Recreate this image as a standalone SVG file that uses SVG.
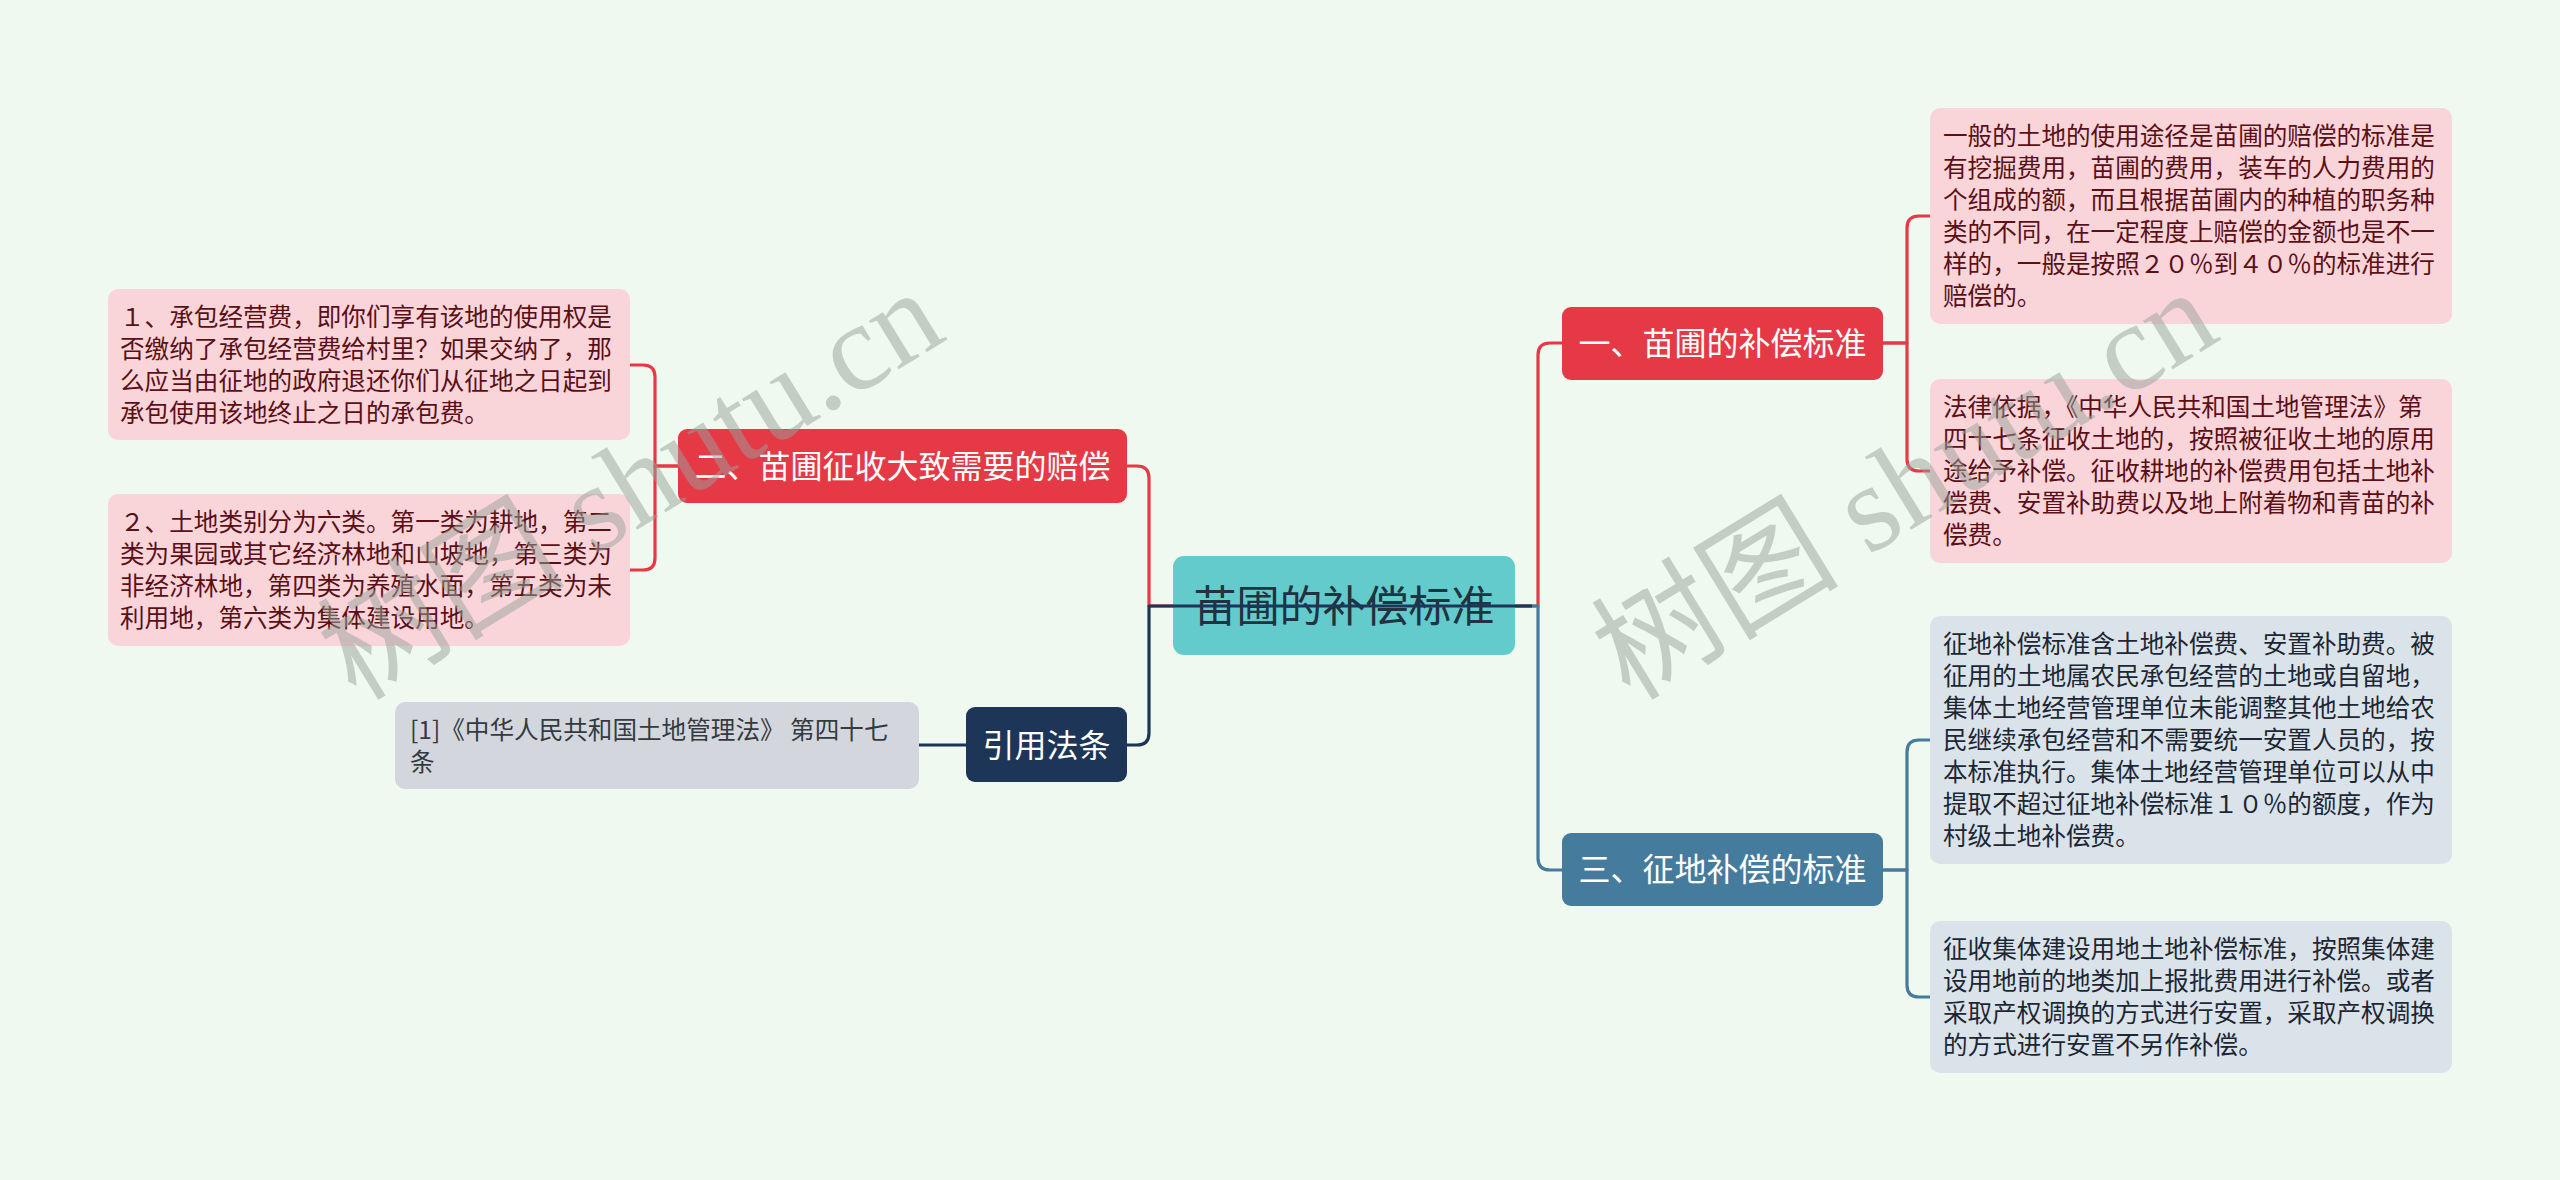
<svg xmlns="http://www.w3.org/2000/svg" width="2560" height="1180" viewBox="0 0 2560 1180">
<style>
text{font-family:"Noto Sans CJK SC","Noto Sans",sans-serif;}
.leaf{font-size:24.6px;}
.pk rect{fill:#f9d5da;}
.pk text{fill:#5a1016;}
.bl rect{fill:#dbe3ea;}
.bl text{fill:#1c2733;}
.gy rect{fill:#d3d7dd;}
.gy text{fill:#333a40;}
.br text{font-size:32px;fill:#ffffff;text-anchor:middle;}
.ln{fill:none;stroke-width:3.2;stroke-linejoin:round;}
.wm{font-family:"Liberation Serif","Noto Sans CJK SC",serif;font-size:124px;fill:#9aa29a;opacity:0.5;}
</style>
<rect width="2560" height="1180" fill="#eff9ef"/>

<g id="root">
<rect x="1173" y="556" width="342" height="99" rx="11" fill="#64cbcc"/>
<text x="1344" y="622" font-size="43" fill="#1f3340" text-anchor="middle">苗圃的补偿标准</text>
</g>

<g id="b1" class="br">
<rect x="1562" y="307" width="321" height="73" rx="9" fill="#e63946"/>
<text x="1722.5" y="355">一、苗圃的补偿标准</text>
</g>
<g id="b3" class="br">
<rect x="1562" y="833" width="321" height="73" rx="9" fill="#457b9d"/>
<text x="1722.5" y="881">三、征地补偿的标准</text>
</g>
<g id="b2" class="br">
<rect x="678" y="429" width="449" height="74" rx="9" fill="#e63946"/>
<text x="902.5" y="478">二、苗圃征收大致需要的赔偿</text>
</g>
<g id="b4" class="br">
<rect x="966" y="707" width="161" height="75" rx="9" fill="#1d3557"/>
<text x="1046.5" y="757">引用法条</text>
</g>

<g id="r1" class="leaf pk">
<rect x="1930" y="108" width="522" height="216" rx="10"/>
<text x="1943" y="145">一般的土地的使用途径是苗圃的赔偿的标准是</text>
<text x="1943" y="177">有挖掘费用，苗圃的费用，装车的人力费用的</text>
<text x="1943" y="209">个组成的额，而且根据苗圃内的种植的职务种</text>
<text x="1943" y="241">类的不同，在一定程度上赔偿的金额也是不一</text>
<text x="1943" y="273">样的，一般是按照２０％到４０％的标准进行</text>
<text x="1943" y="305">赔偿的。</text>
</g>
<g id="r2" class="leaf pk">
<rect x="1930" y="379" width="522" height="184" rx="10"/>
<text x="1943" y="416">法律依据，《中华人民共和国土地管理法》第</text>
<text x="1943" y="448">四十七条征收土地的，按照被征收土地的原用</text>
<text x="1943" y="480">途给予补偿。征收耕地的补偿费用包括土地补</text>
<text x="1943" y="512">偿费、安置补助费以及地上附着物和青苗的补</text>
<text x="1943" y="544">偿费。</text>
</g>
<g id="r3" class="leaf bl">
<rect x="1930" y="616" width="522" height="248" rx="10"/>
<text x="1943" y="653">征地补偿标准含土地补偿费、安置补助费。被</text>
<text x="1943" y="685">征用的土地属农民承包经营的土地或自留地，</text>
<text x="1943" y="717">集体土地经营管理单位未能调整其他土地给农</text>
<text x="1943" y="749">民继续承包经营和不需要统一安置人员的，按</text>
<text x="1943" y="781">本标准执行。集体土地经营管理单位可以从中</text>
<text x="1943" y="813">提取不超过征地补偿标准１０％的额度，作为</text>
<text x="1943" y="845">村级土地补偿费。</text>
</g>
<g id="r4" class="leaf bl">
<rect x="1930" y="921" width="522" height="152" rx="10"/>
<text x="1943" y="958">征收集体建设用地土地补偿标准，按照集体建</text>
<text x="1943" y="990">设用地前的地类加上报批费用进行补偿。或者</text>
<text x="1943" y="1022">采取产权调换的方式进行安置，采取产权调换</text>
<text x="1943" y="1054">的方式进行安置不另作补偿。</text>
</g>
<g id="l1" class="leaf pk">
<rect x="108" y="289" width="522" height="151" rx="10"/>
<text x="120" y="326">１、承包经营费，即你们享有该地的使用权是</text>
<text x="120" y="358">否缴纳了承包经营费给村里？如果交纳了，那</text>
<text x="120" y="390">么应当由征地的政府退还你们从征地之日起到</text>
<text x="120" y="422">承包使用该地终止之日的承包费。</text>
</g>
<g id="l2" class="leaf pk">
<rect x="108" y="494" width="522" height="152" rx="10"/>
<text x="120" y="531">２、土地类别分为六类。第一类为耕地，第二</text>
<text x="120" y="563">类为果园或其它经济林地和山坡地，第三类为</text>
<text x="120" y="595">非经济林地，第四类为养殖水面，第五类为未</text>
<text x="120" y="627">利用地，第六类为集体建设用地。</text>
</g>
<g id="ref" class="leaf gy">
<rect x="395" y="702" width="524" height="87" rx="10"/>
<text x="410" y="739">[1]《中华人民共和国土地管理法》 第四十七</text>
<text x="410" y="771">条</text>
</g>

<g id="connectors">
<path class="ln" stroke="#e63946" d="M1174 606 H1149 V478 Q1149 466 1137 466 H1127"/>
<path class="ln" stroke="#e63946" d="M1515 606 H1538 V355 Q1538 343 1550 343 H1562"/>
<path class="ln" stroke="#457b9d" d="M1515 606 H1538 V858 Q1538 870 1550 870 H1562"/>
<path class="ln" stroke="#1d3557" d="M1532 606 H1149 V733 Q1149 745 1137 745 H1127"/>
<path class="ln" stroke="#e63946" d="M678 466 H655 V377 Q655 365 643 365 H630"/>
<path class="ln" stroke="#e63946" d="M678 466 H655 V558 Q655 570 643 570 H630"/>
<path class="ln" stroke="#e63946" d="M1883 343 H1907 V228 Q1907 216 1919 216 H1930"/>
<path class="ln" stroke="#e63946" d="M1883 343 H1907 V459 Q1907 471 1919 471 H1930"/>
<path class="ln" stroke="#457b9d" d="M1883 870 H1907 V752 Q1907 740 1919 740 H1930"/>
<path class="ln" stroke="#457b9d" d="M1883 870 H1907 V985 Q1907 997 1919 997 H1930"/>
<path class="ln" stroke="#1d3557" d="M966 745 H919"/>
</g>

<g id="watermark">
<text class="wm" x="356" y="702" transform="rotate(-31.5 356 702)">树图 shutu.cn</text>
<text class="wm" x="1630" y="702" transform="rotate(-31.5 1630 702)">树图 shutu.cn</text>
</g>
</svg>
